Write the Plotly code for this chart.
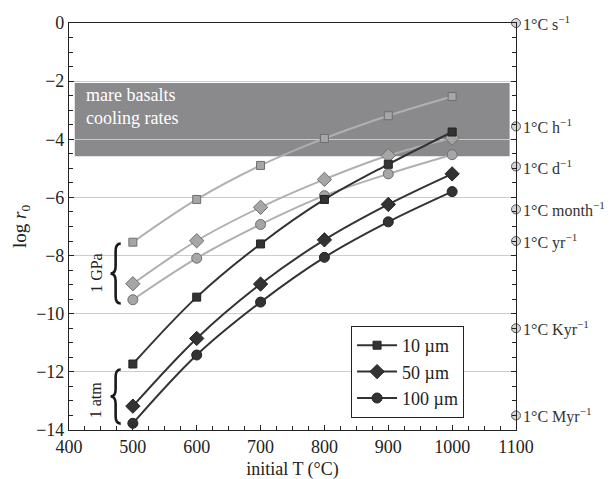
import plotly.graph_objects as go

T = [500, 600, 700, 800, 900, 1000]

# 1 GPa series (grey)
gpa_10 = [-7.54, -6.07, -4.90, -3.97, -3.19, -2.53]
gpa_50 = [-8.97, -7.49, -6.34, -5.38, -4.56, -3.96]
gpa_100 = [-9.52, -8.09, -6.93, -5.94, -5.19, -4.53]
# 1 atm series (black)
atm_10 = [-11.73, -9.43, -7.60, -6.07, -4.86, -3.75]
atm_50 = [-13.18, -10.85, -8.98, -7.46, -6.24, -5.19]
atm_100 = [-13.77, -11.42, -9.60, -8.06, -6.84, -5.80]

size_labels = ["10 µm", "50 µm", "100 µm"]
symbols = ["square", "diamond", "circle"]

rate_labels = ["1°C s<sup>−1</sup>", "1°C h<sup>−1</sup>", "1°C d<sup>−1</sup>",
               "1°C month<sup>−1</sup>", "1°C yr<sup>−1</sup>",
               "1°C Kyr<sup>−1</sup>", "1°C Myr<sup>−1</sup>"]
rate_values = [0.0, -3.556, -4.937, -6.41, -7.50, -10.50, -13.50]

band_range = [-2.06, -4.58]

FONT = "Liberation Serif, Times New Roman, serif"

fig = go.Figure()

# grey band (mare basalts)
fig.add_shape(type="rect", xref="x", yref="y", x0=409, x1=1090,
              y0=band_range[1], y1=band_range[0], fillcolor="#8a8a8c",
              line=dict(width=0), layer="below")

gray_sets = [gpa_10, gpa_50, gpa_100]
black_sets = [atm_10, atm_50, atm_100]
msizes = [8, 11, 10]

for vals, sym, sz in zip(gray_sets, symbols, msizes):
    fig.add_trace(go.Scatter(
        x=T, y=vals, mode="lines+markers", line=dict(color="#b0b0b0", width=2, shape="spline"),
        marker=dict(symbol=sym, size=sz, color="#a6a6a6", line=dict(color="#6e6e6e", width=1)),
        showlegend=False, hoverinfo="skip"))

for vals, sym, sz, name in zip(black_sets, symbols, msizes, size_labels):
    fig.add_trace(go.Scatter(
        x=T, y=vals, mode="lines+markers", name=name,
        line=dict(color="#333333", width=2, shape="spline"),
        marker=dict(symbol=sym, size=sz, color="#333333", line=dict(color="#222222", width=1)),
        showlegend=True))

# right-axis cooling-rate markers
fig.add_trace(go.Scatter(
    x=[1100] * len(rate_values), y=rate_values, mode="markers",
    marker=dict(symbol="circle", size=9, color="#d6d6d6", line=dict(color="#555555", width=1)),
    cliponaxis=False, showlegend=False, hoverinfo="skip"))

for lab, val in zip(rate_labels, rate_values):
    fig.add_annotation(x=1, xref="paper", y=val, yref="y", text=lab, xanchor="left",
                       xshift=5, showarrow=False,
                       font=dict(family=FONT, size=16, color="#333333"))


def brace(xc, xl, xr, ytop, ybot, d=0.25):
    ym = (ytop + ybot) / 2
    return (f"M {xr},{ytop} Q {xc},{ytop} {xc},{ytop - d} "
            f"L {xc},{ym + d} Q {xc},{ym} {xl},{ym} "
            f"Q {xc},{ym} {xc},{ym - d} L {xc},{ybot + d} "
            f"Q {xc},{ybot} {xr},{ybot}")


for ytop, ybot in [(-7.59, -9.65), (-11.92, -13.78)]:
    fig.add_shape(type="path", xref="x", yref="y",
                  path=brace(473, 465, 481, ytop, ybot),
                  line=dict(color="#1a1a1a", width=2.6))

fig.add_annotation(x=442, y=-8.6, xref="x", yref="y", text="1 GPa", textangle=-90,
                   showarrow=False, font=dict(family=FONT, size=16, color="#222"))
fig.add_annotation(x=442, y=-12.95, xref="x", yref="y", text="1 atm", textangle=-90,
                   showarrow=False, font=dict(family=FONT, size=16, color="#222"))

fig.add_annotation(x=0.033, y=0.795, xref="paper", yref="paper",
                   text="mare basalts<br>cooling rates", align="left",
                   xanchor="left", yanchor="middle", showarrow=False,
                   font=dict(family=FONT, size=18, color="white"))

fig.update_layout(
    width=612, height=479,
    margin=dict(l=61, r=104, t=15, b=57),
    paper_bgcolor="white", plot_bgcolor="white",
    font=dict(family=FONT, size=18, color="#222"),
    showlegend=True,
    legend=dict(x=0.631, y=0.2555, xanchor="left", yanchor="top",
                bgcolor="white", bordercolor="#222", borderwidth=1,
                font=dict(family=FONT, size=18, color="#222"),
                itemwidth=40, tracegroupgap=0),
    xaxis=dict(range=[400, 1100], dtick=100, tick0=400, showgrid=False,
               showline=True, linecolor="#222", linewidth=1.2, mirror=True,
               ticks="inside", ticklen=5, tickcolor="#222", automargin=False,
               tickfont=dict(family=FONT, size=18),
               minor=dict(dtick=25, ticks="inside", ticklen=4, tickcolor="#222"),
               title=dict(text="initial T (°C)", font=dict(family=FONT, size=18), standoff=6),
               zeroline=False),
    yaxis=dict(range=[-14, 0], dtick=2, tick0=0, showgrid=True, gridcolor="#cccccc",
               gridwidth=1.2, automargin=False,
               showline=True, linecolor="#222", linewidth=1.2, mirror="ticks",
               ticks="inside", ticklen=5, tickcolor="#222",
               tickfont=dict(family=FONT, size=18),
               minor=dict(dtick=0.5, ticks="inside", ticklen=4, tickcolor="#222", showgrid=False),
               title=dict(text="log <i>r</i><sub>0</sub>", font=dict(family=FONT, size=19), standoff=4),
               zeroline=False),
)

fig.write_html("out.html")
